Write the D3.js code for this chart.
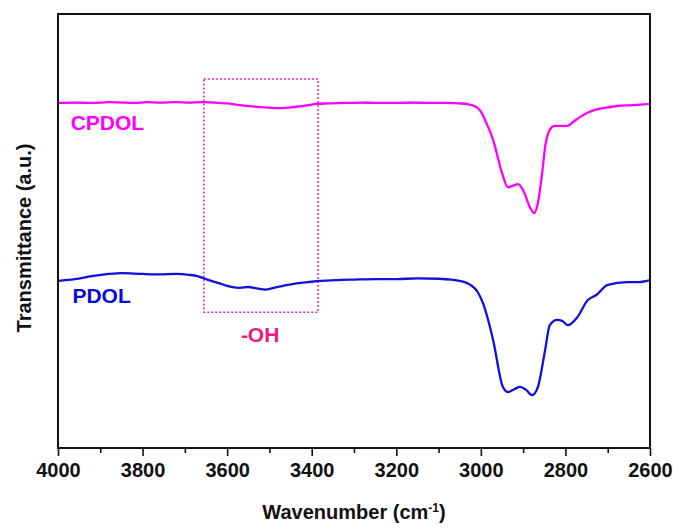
<!DOCTYPE html>
<html><head><meta charset="utf-8">
<script src="https://cdn.jsdelivr.net/npm/d3@7"></script>
<style>body{margin:0;background:#fff}svg{display:block}text{font-family:"Liberation Sans",Arial,sans-serif;font-weight:bold}</style>
</head><body><svg id="c" width="679" height="529"></svg>
<script>
// Data (wavenumber cm-1, transmittance a.u.)
const cpdolWave = [4000,3960,3920,3880,3850,3820,3790,3760,3720,3690,3660,3630,3600,3570,3540,3510,3480,3450,3420,3390,3360,3320,3280,3240,3200,3160,3120,3080,3050,3030,3015,3002,2990,2971,2950,2936,2925,2912,2900,2884,2874,2865,2855,2848,2837,2825,2810,2796,2782,2765,2749,2730,2711,2678,2640,2600];
const cpdolT    = [79.5,79.6,79.5,79.7,79.6,79.5,79.7,79.6,79.7,79.6,79.7,79.6,79.4,79.0,78.7,78.5,78.3,78.5,78.8,79.3,79.4,79.5,79.6,79.5,79.5,79.6,79.5,79.5,79.4,79.2,78.8,77.8,75.6,71.0,63.4,60.1,60.4,60.8,59.4,55.5,54.1,56.5,63.4,69.4,73.3,74.2,74.2,74.2,75.1,76.3,77.2,77.9,78.3,78.8,79.0,79.3];
const pdolWave  = [4000,3960,3920,3880,3850,3800,3760,3720,3690,3670,3650,3620,3590,3570,3550,3530,3510,3490,3470,3440,3410,3380,3340,3300,3250,3200,3150,3100,3070,3045,3025,3008,2995,2971,2948,2936,2920,2907,2893,2879,2865,2848,2837,2820,2808,2794,2773,2747,2726,2700,2654,2631,2600];
const pdolT     = [38.5,38.9,39.6,40.1,40.3,40.1,40.0,40.1,39.9,39.6,38.9,38.0,37.1,36.9,37.1,36.8,36.5,36.9,37.3,37.9,38.2,38.5,38.7,38.8,38.9,38.9,39.1,39.0,38.8,38.4,37.6,36.0,33.4,24.9,14.1,12.9,13.6,14.1,13.4,12.2,14.1,22.6,28.3,29.5,29.3,28.3,30.0,34.1,35.3,37.6,38.2,38.2,38.7];
const xTicks = [4000,3800,3600,3400,3200,3000,2800,2600];
const xMinorTicks = [3900,3700,3500,3300,3100,2900,2700];
const ohBox = {w0:3655, w1:3385, t0:31.3, t1:85.0};
const seriesLabels = [
  {text:"CPDOL", w:3970, t:73.3, color:"#ff00ff", anchor:"start"},
  {text:"PDOL", w:3966, t:33.4, color:"#0a0ad8", anchor:"start"},
  {text:"-OH", w:3522, t:24.5, color:"#ea1a80", anchor:"middle"}
];

const L=58,R=650,T=14,B=448;
const svg=d3.select("#c");
const x=d3.scaleLinear().domain([4000,2600]).range([L,R]);
const y=d3.scaleLinear().domain([0,100]).range([B,T]);

// dashed OH box
svg.append("rect").attr("x",x(ohBox.w0)).attr("y",y(ohBox.t1))
  .attr("width",x(ohBox.w1)-x(ohBox.w0)).attr("height",y(ohBox.t0)-y(ohBox.t1))
  .attr("fill","none").attr("stroke","#f0288c").attr("stroke-width",1.5).attr("stroke-dasharray","2,2");

const line=d3.line().x(d=>x(d[0])).y(d=>y(d[1])).curve(d3.curveMonotoneX);
svg.append("path").datum(cpdolWave.map((w,i)=>[w,cpdolT[i]])).attr("d",line)
  .attr("fill","none").attr("stroke","#ff00ff").attr("stroke-width",2.3);
svg.append("path").datum(pdolWave.map((w,i)=>[w,pdolT[i]])).attr("d",line)
  .attr("fill","none").attr("stroke","#1010e0").attr("stroke-width",2.3);

// frame
svg.append("rect").attr("x",L).attr("y",T).attr("width",R-L).attr("height",B-T)
  .attr("fill","none").attr("stroke","#111").attr("stroke-width",2);

// x axis
const ax=svg.append("g").attr("transform",`translate(0,${B})`)
  .call(d3.axisBottom(x).tickValues(xTicks).tickFormat(d3.format("d")).tickSize(8).tickPadding(7));
ax.select(".domain").remove();
ax.selectAll(".tick line").attr("stroke","#111").attr("stroke-width",1.6);
ax.selectAll(".tick text").attr("font-size",20).attr("fill","#111").style("font-family","'Liberation Sans',Arial,sans-serif").style("font-weight","bold");
const axm=svg.append("g").attr("transform",`translate(0,${B})`)
  .call(d3.axisBottom(x).tickValues(xMinorTicks).tickFormat("").tickSize(5));
axm.select(".domain").remove();
axm.selectAll(".tick line").attr("stroke","#111").attr("stroke-width",1.6);

// axis titles
const xt=svg.append("text").attr("x",(L+R)/2).attr("y",519).attr("text-anchor","middle").attr("font-size",20).attr("fill","#111");
xt.append("tspan").text("Wavenumber (cm");
xt.append("tspan").attr("dy",-7).attr("font-size",12).text("-1");
xt.append("tspan").attr("dy",7).text(")");
svg.append("text").attr("transform","translate(31,238) rotate(-90)").attr("text-anchor","middle")
  .attr("font-size",20).attr("fill","#111").text("Transmittance (a.u.)");

// series labels
seriesLabels.forEach(s=>{
  svg.append("text").attr("x",x(s.w)).attr("y",y(s.t)).attr("text-anchor",s.anchor)
    .attr("font-size",21).attr("fill",s.color).text(s.text);
});
</script></body></html>
